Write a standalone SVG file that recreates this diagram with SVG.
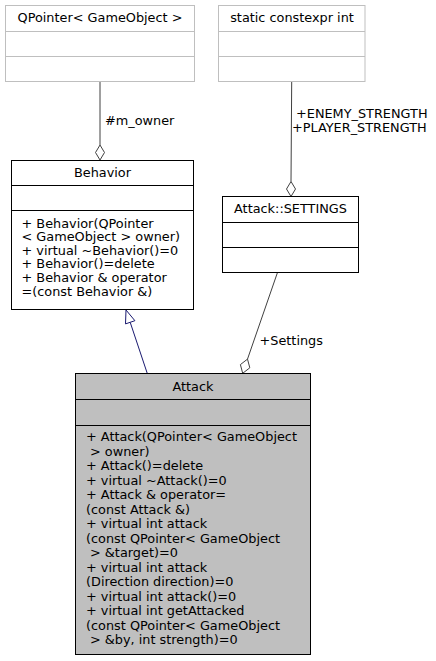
<svg xmlns="http://www.w3.org/2000/svg" width="436" height="661" viewBox="0 0 436 661">
<style>
text{font-family:"DejaVu Sans",sans-serif;font-size:12.85px;fill:#000}
.c{text-anchor:middle}
.ext{fill:#fff;stroke:#bfbfbf;stroke-width:1}
.cls{fill:#fff;stroke:#000;stroke-width:1}
.cur{fill:#bfbfbf;stroke:#000;stroke-width:1}
.dl{stroke:#bfbfbf;stroke-width:1}
.dk{stroke:#000;stroke-width:1}
.use{fill:none;stroke:#404040;stroke-width:1}
.dia{fill:#fff;stroke:#404040;stroke-width:1}
.inh{fill:none;stroke:#191970;stroke-width:1}
.tri{fill:#fff;stroke:#191970;stroke-width:1}
</style>
<rect width="436" height="661" fill="#fff"/>
<g id="edges">
<path class="use" d="M100,82 L100,145"/>
<polygon class="dia" points="100,160 104.5,152.5 100,145 95.5,152.5"/>
<text x="105" y="124.5">#m_owner</text>
<path class="use" d="M291.7,82 L291,181.5"/>
<polygon class="dia" points="291,196.5 295.5,189 291,181.5 286.5,189"/>
<text x="296" y="118">+ENEMY_STRENGTH</text>
<text x="292" y="132">+PLAYER_STRENGTH</text>
<path class="use" d="M277.3,273 L247.5,359.1"/>
<polygon class="dia" points="242.7,373.3 249.8,367.8 247.5,359.1 240.4,364.6"/>
<text x="259.5" y="345">+Settings</text>
<path class="inh" d="M147.3,373.5 L130.2,322.3"/>
<polygon class="tri" points="126,310 134.9,320.7 125.5,323.9"/>
</g>
<g id="node-qpointer">
<rect class="ext" x="5.5" y="5.5" width="189" height="76"/>
<line class="dl" x1="5.5" y1="31.5" x2="194.5" y2="31.5"/>
<line class="dl" x1="5.5" y1="56.5" x2="194.5" y2="56.5"/>
<text class="c" x="100" y="22">QPointer&lt; GameObject &gt;</text>
</g>
<g id="node-static">
<rect class="ext" x="218.5" y="5.5" width="146.5" height="76"/>
<line class="dl" x1="218.5" y1="31.5" x2="365" y2="31.5"/>
<line class="dl" x1="218.5" y1="56.5" x2="365" y2="56.5"/>
<text class="c" x="292" y="22">static constexpr int</text>
</g>
<g id="node-behavior">
<rect class="cls" x="11.5" y="160.5" width="182" height="149"/>
<line class="dk" x1="11.5" y1="185.5" x2="193.5" y2="185.5"/>
<line class="dk" x1="11.5" y1="210.5" x2="193.5" y2="210.5"/>
<text class="c" x="102.5" y="177">Behavior</text>
<text x="21.5" y="227.5">+ Behavior(QPointer</text>
<text x="21.5" y="241.1">&lt; GameObject &gt; owner)</text>
<text x="21.5" y="254.7">+ virtual ~Behavior()=0</text>
<text x="21.5" y="268.3">+ Behavior()=delete</text>
<text x="21.5" y="281.9">+ Behavior &amp; operator</text>
<text x="21.5" y="295.5">=(const Behavior &amp;)</text>
</g>
<g id="node-settings">
<rect class="cls" x="222.5" y="196.5" width="136" height="76"/>
<line class="dk" x1="222.5" y1="222.5" x2="358.5" y2="222.5"/>
<line class="dk" x1="222.5" y1="247.5" x2="358.5" y2="247.5"/>
<text class="c" x="290.5" y="213">Attack::SETTINGS</text>
</g>
<g id="node-attack">
<rect class="cur" x="75.5" y="373.5" width="235" height="281"/>
<line class="dk" x1="75.5" y1="399.5" x2="310.5" y2="399.5"/>
<line class="dk" x1="75.5" y1="425.5" x2="310.5" y2="425.5"/>
<text class="c" x="193" y="390.5">Attack</text>
<text x="86" y="441">+ Attack(QPointer&lt; GameObject</text>
<text x="90" y="455.5">&gt; owner)</text>
<text x="86" y="470">+ Attack()=delete</text>
<text x="86" y="484.5">+ virtual ~Attack()=0</text>
<text x="86" y="499">+ Attack &amp; operator=</text>
<text x="86" y="513.5">(const Attack &amp;)</text>
<text x="86" y="528">+ virtual int attack</text>
<text x="86" y="542.5">(const QPointer&lt; GameObject</text>
<text x="90" y="557">&gt; &amp;target)=0</text>
<text x="86" y="571.5">+ virtual int attack</text>
<text x="86" y="586">(Direction direction)=0</text>
<text x="86" y="600.5">+ virtual int attack()=0</text>
<text x="86" y="615">+ virtual int getAttacked</text>
<text x="86" y="629.5">(const QPointer&lt; GameObject</text>
<text x="90" y="644">&gt; &amp;by, int strength)=0</text>
</g>
</svg>
